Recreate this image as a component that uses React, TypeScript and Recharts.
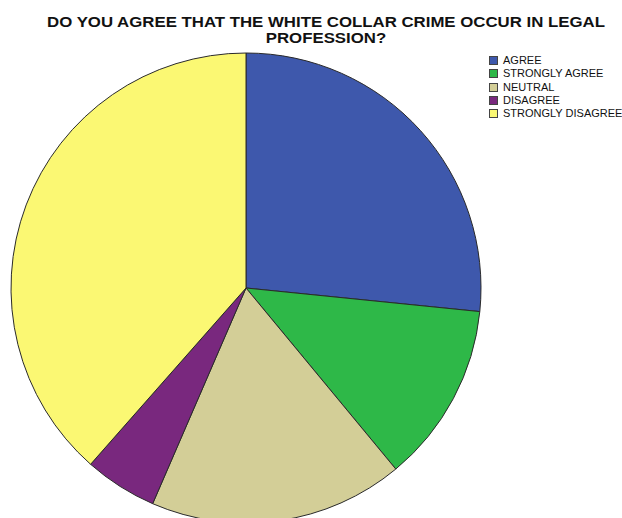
import React from "react";
import { PieChart, Pie, Cell, Legend } from "recharts";

const categories = ["AGREE", "STRONGLY AGREE", "NEUTRAL", "DISAGREE", "STRONGLY DISAGREE"];
const values = [26.6, 12.4, 17.5, 5.0, 38.5];
const colors = ["#3E58AC", "#2EB848", "#D3CE97", "#79287E", "#FBF873"];
const titleLines = ["DO YOU AGREE THAT THE WHITE COLLAR CRIME OCCUR IN LEGAL", "PROFESSION?"];

const data = categories.map((name, i) => ({ name, value: values[i] }));

const renderLegend = () => (
  <div style={{ fontFamily: "Arial, 'Liberation Sans', sans-serif", fontSize: 11, color: "#111" }}>
    {categories.map((c, i) => (
      <div key={c} style={{ display: "flex", alignItems: "center", height: 13.3, whiteSpace: "nowrap" }}>
        <span
          style={{
            display: "inline-block",
            width: 9,
            height: 9,
            background: colors[i],
            border: "1px solid #444",
            boxSizing: "border-box",
            marginRight: 5,
            flexShrink: 0,
          }}
        />
        <span style={{ lineHeight: "11px" }}>{c}</span>
      </div>
    ))}
  </div>
);

export default function App() {
  return (
    <div style={{ position: "absolute", left: 0, top: 0, width: 622, height: 518, background: "#fff", overflow: "hidden" }}>
      <div
        style={{
          position: "absolute",
          left: 0,
          top: 14,
          width: 652,
          textAlign: "center",
          fontFamily: "Arial, 'Liberation Sans', sans-serif",
          fontWeight: "bold",
          fontSize: 14,
          color: "#111",
          zIndex: 2,
          transform: "scaleX(1.2)",
          transformOrigin: "326px 0px",
        }}
      >
        {titleLines.map((t) => (
          <div key={t} style={{ height: 16, lineHeight: "16px", whiteSpace: "nowrap" }}>
            {t}
          </div>
        ))}
      </div>
      <PieChart width={622} height={518} margin={{ top: 0, right: 0, bottom: 0, left: 0 }}>
        <Pie
          data={data}
          dataKey="value"
          nameKey="name"
          cx={246}
          cy={288}
          outerRadius={235}
          startAngle={90}
          endAngle={-270}
          stroke="#2a2a2a"
          strokeWidth={1}
          isAnimationActive={false}
          labelLine={false}
        >
          {data.map((d, i) => (
            <Cell key={d.name} fill={colors[i]} />
          ))}
        </Pie>
        <Legend
          content={renderLegend}
          layout="vertical"
          verticalAlign="top"
          align="right"
          wrapperStyle={{ position: "absolute", left: 489, top: 54, width: 140 }}
        />
      </PieChart>
    </div>
  );
}
